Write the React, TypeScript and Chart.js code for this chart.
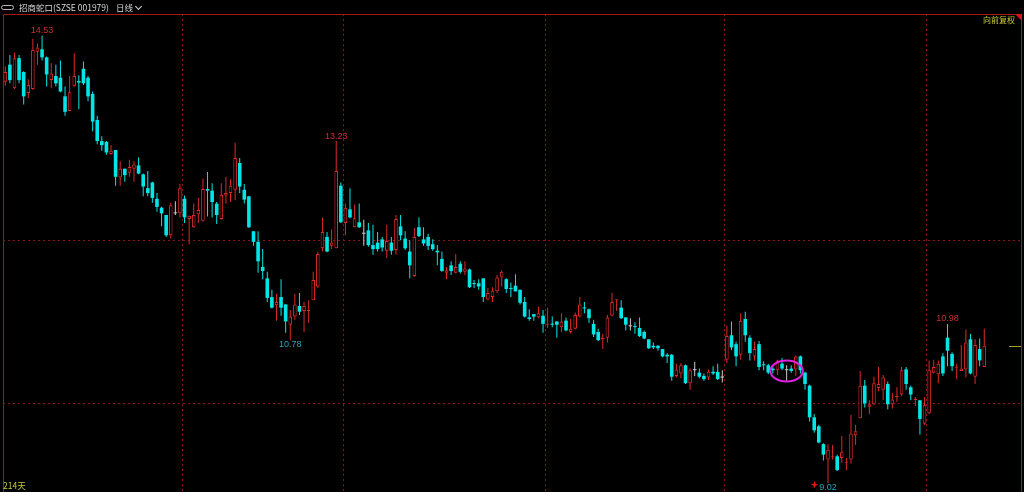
import React, { useEffect, useRef } from 'react';
import { Chart, registerables } from 'chart.js';

Chart.register(...registerables);

// ---- Daily K-line data (214 trading days) ----
const openData = [
  13.96, 14.17, 13.88, 14.25, 14.08, 13.82, 13.87, 14.33, 14.36, 14.26,
  13.98, 14.03, 14.01, 13.78, 13.60, 13.91, 13.97, 14.12, 14.01, 13.81,
  13.49, 13.23, 13.22, 13.07, 13.12, 12.78, 12.89, 12.84, 12.89, 12.93,
  12.82, 12.65, 12.72, 12.52, 12.41, 12.32, 12.07, 12.34, 12.34, 12.52,
  12.27, 12.17, 12.33, 12.25, 12.64, 12.62, 12.46, 12.27, 12.56, 12.59,
  12.63, 12.96, 12.63, 12.55, 12.12, 11.99, 11.68, 11.54, 11.31, 11.21,
  11.31, 11.22, 10.97, 11.07, 11.20, 11.14, 11.14, 11.27, 11.44, 11.91,
  12.05, 11.94, 11.91, 12.68, 12.22, 12.39, 12.17, 12.23, 12.09, 12.13,
  11.95, 11.98, 12.02, 11.88, 11.98, 11.89, 12.18, 12.03, 11.87, 11.57,
  12.17, 12.02, 12.05, 11.96, 11.88, 11.78, 11.61, 11.70, 11.61, 11.72,
  11.62, 11.65, 11.48, 11.48, 11.54, 11.28, 11.31, 11.38, 11.55, 11.53,
  11.42, 11.45, 11.40, 11.25, 11.06, 11.10, 11.06, 11.08, 10.97, 10.98,
  11.01, 10.94, 11.02, 10.88, 10.92, 11.07, 11.18, 11.16, 10.98, 10.88,
  10.79, 10.81, 11.08, 11.27, 11.18, 11.06, 10.95, 10.95, 10.93, 10.88,
  10.79, 10.71, 10.71, 10.67, 10.60, 10.60, 10.34, 10.37, 10.47, 10.25,
  10.41, 10.38, 10.34, 10.32, 10.39, 10.39, 10.32, 10.54, 10.84, 10.73,
  10.60, 11.04, 10.81, 10.58, 10.73, 10.48, 10.47, 10.43, 10.41, 10.49,
  10.41, 10.43, 10.42, 10.58, 10.38, 10.22, 9.83, 9.72, 9.50, 9.31,
  9.34, 9.35, 9.33, 9.27, 9.31, 9.61, 9.82, 10.22, 9.96, 9.99,
  10.19, 10.17, 10.24, 9.99, 10.08, 10.11, 10.42, 10.20, 10.04, 10.04,
  9.75, 9.88, 10.38, 10.36, 10.58, 10.81, 10.61, 10.44, 10.40, 10.42,
  10.79, 10.33, 10.67, 10.45,
];

const highData = [
  14.15, 14.29, 14.32, 14.29, 14.09, 13.99, 14.49, 14.43, 14.53, 14.27,
  14.19, 14.17, 14.22, 13.90, 14.03, 14.31, 14.04, 14.21, 14.03, 13.84,
  13.54, 13.29, 13.23, 13.18, 13.12, 12.98, 12.89, 13.00, 12.98, 13.03,
  12.83, 12.86, 12.73, 12.59, 12.42, 12.32, 12.47, 12.49, 12.70, 12.56,
  12.31, 12.46, 12.53, 12.77, 12.85, 12.71, 12.48, 12.71, 12.79, 12.76,
  13.21, 13.02, 12.70, 12.55, 12.12, 12.12, 11.90, 11.62, 11.40, 11.35,
  11.53, 11.22, 11.15, 11.35, 11.36, 11.25, 11.27, 11.62, 11.87, 12.29,
  12.11, 12.14, 13.23, 12.72, 12.46, 12.65, 12.45, 12.46, 12.26, 12.22,
  12.20, 12.11, 12.05, 12.20, 12.05, 12.32, 12.32, 12.12, 12.01, 12.16,
  12.29, 12.17, 12.09, 12.02, 11.95, 11.87, 11.68, 11.75, 11.84, 11.75,
  11.75, 11.66, 11.52, 11.53, 11.54, 11.42, 11.43, 11.58, 11.64, 11.54,
  11.49, 11.59, 11.40, 11.31, 11.16, 11.10, 11.19, 11.15, 11.18, 11.07,
  11.01, 11.11, 11.06, 11.04, 11.12, 11.31, 11.25, 11.17, 11.03, 10.92,
  10.86, 11.09, 11.36, 11.28, 11.27, 11.06, 11.05, 11.00, 11.06, 10.90,
  10.79, 10.75, 10.72, 10.67, 10.62, 10.61, 10.49, 10.50, 10.48, 10.43,
  10.51, 10.43, 10.37, 10.42, 10.46, 10.49, 10.41, 10.96, 11.01, 10.76,
  11.11, 11.13, 10.84, 10.76, 10.77, 10.52, 10.49, 10.46, 10.54, 10.56,
  10.47, 10.47, 10.59, 10.59, 10.39, 10.23, 9.87, 9.74, 9.51, 9.50,
  9.49, 9.37, 9.60, 9.33, 9.86, 9.74, 10.40, 10.29, 10.04, 10.33,
  10.45, 10.35, 10.27, 10.13, 10.20, 10.45, 10.45, 10.22, 10.08, 10.04,
  10.08, 10.53, 10.54, 10.53, 10.62, 10.98, 10.63, 10.49, 10.72, 10.91,
  10.86, 10.79, 10.80, 10.92,
];

const lowData = [
  13.91, 13.94, 13.87, 13.94, 13.68, 13.76, 13.86, 14.17, 14.22, 13.90,
  13.88, 13.90, 13.83, 13.54, 13.60, 13.90, 13.62, 13.92, 13.72, 13.35,
  13.19, 13.11, 13.06, 13.06, 12.68, 12.68, 12.73, 12.79, 12.73, 12.82,
  12.55, 12.55, 12.47, 12.36, 12.18, 12.05, 12.03, 12.32, 12.29, 12.22,
  11.96, 12.16, 12.22, 12.24, 12.30, 12.29, 12.21, 12.26, 12.46, 12.48,
  12.50, 12.59, 12.46, 12.16, 11.94, 11.61, 11.53, 11.25, 11.17, 11.02,
  11.08, 10.87, 10.78, 11.03, 11.09, 10.88, 10.99, 11.27, 11.42, 11.87,
  11.86, 11.90, 11.91, 12.22, 12.07, 12.28, 12.17, 12.16, 11.94, 11.93,
  11.83, 11.87, 11.87, 11.79, 11.83, 11.83, 12.01, 11.89, 11.54, 11.56,
  12.05, 11.94, 11.89, 11.88, 11.70, 11.62, 11.53, 11.58, 11.60, 11.60,
  11.58, 11.42, 11.42, 11.40, 11.25, 11.27, 11.25, 11.36, 11.44, 11.36,
  11.31, 11.38, 11.22, 11.06, 11.02, 11.02, 11.05, 10.87, 10.93, 10.94,
  10.81, 10.88, 10.89, 10.86, 10.91, 11.06, 11.11, 10.99, 10.82, 10.77,
  10.67, 10.75, 11.07, 11.14, 11.04, 10.90, 10.90, 10.86, 10.82, 10.79,
  10.67, 10.67, 10.65, 10.57, 10.50, 10.28, 10.32, 10.31, 10.24, 10.17,
  10.34, 10.31, 10.28, 10.29, 10.35, 10.29, 10.26, 10.50, 10.66, 10.46,
  10.54, 10.76, 10.53, 10.53, 10.41, 10.41, 10.36, 10.37, 10.35, 10.41,
  10.28, 10.38, 10.34, 10.37, 10.17, 9.78, 9.64, 9.51, 9.30, 9.02,
  9.31, 9.17, 9.27, 9.18, 9.26, 9.49, 9.82, 9.95, 9.87, 9.98,
  10.15, 10.04, 9.93, 9.94, 10.02, 10.09, 10.17, 10.04, 9.97, 9.62,
  9.74, 9.87, 10.37, 10.25, 10.34, 10.46, 10.40, 10.30, 10.40, 10.32,
  10.36, 10.24, 10.46, 10.45,
];

const closeData = [
  14.08, 13.98, 14.25, 13.98, 13.78, 13.92, 14.35, 14.38, 14.26, 14.05,
  14.06, 13.94, 13.84, 13.59, 13.83, 14.03, 13.95, 13.94, 13.78, 13.47,
  13.23, 13.18, 13.09, 13.11, 12.79, 12.89, 12.81, 12.91, 12.94, 12.83,
  12.67, 12.59, 12.53, 12.42, 12.34, 12.07, 12.44, 12.34, 12.65, 12.29,
  12.31, 12.32, 12.38, 12.64, 12.62, 12.48, 12.32, 12.57, 12.59, 12.68,
  13.02, 12.67, 12.51, 12.17, 11.99, 11.75, 11.63, 11.30, 11.18, 11.25,
  11.18, 11.01, 11.07, 11.22, 11.13, 11.20, 11.15, 11.52, 11.84, 12.11,
  11.87, 11.98, 12.86, 12.23, 12.41, 12.29, 12.28, 12.17, 12.09, 11.95,
  11.90, 11.90, 11.92, 12.00, 11.88, 12.27, 12.07, 11.91, 11.70, 12.05,
  12.06, 11.97, 11.94, 11.90, 11.86, 11.63, 11.64, 11.63, 11.68, 11.62,
  11.66, 11.43, 11.47, 11.44, 11.31, 11.36, 11.39, 11.55, 11.62, 11.41,
  11.41, 11.38, 11.24, 11.07, 11.04, 11.07, 11.11, 10.98, 10.98, 10.97,
  10.97, 11.01, 10.90, 10.92, 11.09, 11.22, 11.17, 11.05, 10.85, 10.78,
  10.81, 11.06, 11.25, 11.28, 11.05, 10.97, 10.95, 10.94, 10.83, 10.80,
  10.68, 10.69, 10.68, 10.58, 10.58, 10.33, 10.42, 10.47, 10.25, 10.41,
  10.41, 10.33, 10.30, 10.39, 10.37, 10.30, 10.32, 10.83, 10.69, 10.58,
  11.02, 10.84, 10.62, 10.67, 10.45, 10.47, 10.38, 10.41, 10.53, 10.43,
  10.41, 10.40, 10.58, 10.41, 10.24, 9.83, 9.67, 9.52, 9.37, 9.43,
  9.35, 9.18, 9.40, 9.28, 9.63, 9.66, 10.22, 10.00, 9.99, 10.25,
  10.24, 10.32, 9.99, 10.05, 10.09, 10.41, 10.24, 10.11, 10.06, 9.81,
  9.98, 10.41, 10.45, 10.49, 10.37, 10.65, 10.46, 10.45, 10.43, 10.75,
  10.37, 10.72, 10.53, 10.71,
];

// Vertical (period) grid positions, between day slots; horizontal price grid
const periodBreaks = [38.5, 73.5, 117.5, 156.5, 200.5];
const priceGrid = [10, 12];

// Annotated extremes (day indices)
const highMarks = [8, 72, 205];
const lowMarks = [62, 179];

// Circled group of days and its price level
const circledDays = [168, 172];
const circledPrice = 10.4;

const UP_COLOR = '#dc2a2a';
const DOWN_COLOR = '#00e6e6';
const FLAT_COLOR = '#cccccc';
const FRAME_COLOR = '#a81616';
const GRID_COLOR = '#8c1414';
const HIGH_TEXT = '#cc3030';
const LOW_TEXT = '#25a6bd';
const NOTE_YELLOW = '#c8c83a';

function candleColor(i: number) {
  if (closeData[i] > openData[i]) return UP_COLOR;
  if (closeData[i] < openData[i]) return DOWN_COLOR;
  return FLAT_COLOR;
}

const overlayPlugin = {
  id: 'klineOverlay',
  afterDatasetsDraw(chart: any) {
    const { ctx, chartArea: a, scales } = chart;
    const xs = scales.x;
    const ys = scales.y;
    ctx.save();

    // frame
    ctx.strokeStyle = FRAME_COLOR;
    ctx.lineWidth = 1;
    ctx.setLineDash([]);
    ctx.beginPath();
    ctx.moveTo(a.left + 0.5, a.bottom);
    ctx.lineTo(a.left + 0.5, a.top + 0.5);
    ctx.lineTo(a.right - 0.5, a.top + 0.5);
    ctx.lineTo(a.right - 0.5, a.bottom);
    ctx.stroke();

    // corner triangle
    ctx.fillStyle = '#d01818';
    ctx.beginPath();
    ctx.moveTo(a.right - 7, a.top);
    ctx.lineTo(a.right, a.top);
    ctx.lineTo(a.right, a.top + 7);
    ctx.closePath();
    ctx.fill();

    // high / low labels
    ctx.font = '9px "Liberation Sans", Arial, sans-serif';
    ctx.textAlign = 'center';
    ctx.textBaseline = 'middle';
    highMarks.forEach((i) => {
      const px = xs.getPixelForValue(i);
      const py = ys.getPixelForValue(highData[i]);
      ctx.fillStyle = HIGH_TEXT;
      ctx.fillText(highData[i].toFixed(2), px, py - 5);
    });
    let minIdx = 0;
    lowData.forEach((v, i) => { if (v < lowData[minIdx]) minIdx = i; });
    lowMarks.forEach((i) => {
      const px = xs.getPixelForValue(i);
      const py = ys.getPixelForValue(lowData[i]);
      ctx.fillStyle = LOW_TEXT;
      ctx.fillText(lowData[i].toFixed(2), px, py + 4.5);
      if (i === minIdx) {
        const sx = px - 13.5;
        const sy = py + 1.5;
        ctx.fillStyle = '#e01c1c';
        ctx.beginPath();
        const r = 3.8, r2 = 1.4;
        for (let k = 0; k < 8; k++) {
          const ang = (Math.PI / 4) * k - Math.PI / 2;
          const rr = k % 2 === 0 ? r : r2;
          const qx = sx + rr * Math.cos(ang);
          const qy = sy + rr * Math.sin(ang);
          if (k === 0) ctx.moveTo(qx, qy); else ctx.lineTo(qx, qy);
        }
        ctx.closePath();
        ctx.fill();
      }
    });

    // circled group
    const cx = (xs.getPixelForValue(circledDays[0]) + xs.getPixelForValue(circledDays[1])) / 2;
    const rx = (xs.getPixelForValue(circledDays[1]) - xs.getPixelForValue(circledDays[0])) / 2 + 7;
    const cy = ys.getPixelForValue(circledPrice);
    ctx.strokeStyle = '#e020e0';
    ctx.lineWidth = 2;
    ctx.beginPath();
    ctx.ellipse(cx, cy, rx, 10.5, 0, 0, Math.PI * 2);
    ctx.stroke();

    // last price marker
    const last = closeData[closeData.length - 1];
    const ly = Math.round(ys.getPixelForValue(last)) + 0.5;
    ctx.strokeStyle = '#a0a020';
    ctx.lineWidth = 1;
    ctx.beginPath();
    ctx.moveTo(a.right - 13, ly);
    ctx.lineTo(a.right - 1, ly);
    ctx.stroke();

    ctx.restore();
  },
};

export default function App() {
  const ref = useRef<HTMLCanvasElement | null>(null);

  useEffect(() => {
    document.body.style.margin = '0';
    document.body.style.background = '#000';
    const idx = openData.map((_, i) => i);
    const wickData = idx.map((i) => ({ x: i, y: [lowData[i], highData[i]] }));
    const bodyData = idx.map((i) => ({
      x: i,
      y: [Math.min(openData[i], closeData[i]), Math.max(openData[i], closeData[i])],
    }));
    const chart = new Chart(ref.current as HTMLCanvasElement, {
      type: 'bar',
      data: {
        datasets: [
          {
            label: 'body',
            data: bodyData as any,
            backgroundColor: idx.map((i) => (closeData[i] > openData[i] ? '#000000' : candleColor(i))),
            borderColor: idx.map((i) => candleColor(i)),
            borderWidth: idx.map((i) => (closeData[i] > openData[i] ? 1 : 0)),
            borderSkipped: false,
            barThickness: 3.6,
            minBarLength: 1,
            inflateAmount: 0,
            grouped: false,
            order: 1,
          } as any,
          {
            label: 'wick',
            data: wickData as any,
            backgroundColor: idx.map((i) => candleColor(i)),
            borderWidth: 0,
            barThickness: 1,
            inflateAmount: 0,
            grouped: false,
            order: 2,
          } as any,
        ],
      },
      options: {
        responsive: false,
        animation: false,
        events: [],
        layout: { padding: { left: 3, top: 14, right: 2, bottom: 0 } },
        plugins: { legend: { display: false }, tooltip: { enabled: false } },
        scales: {
          x: {
            type: 'linear',
            min: -0.5,
            max: 221.21,
            offset: false,
            bounds: 'data',
            ticks: { display: false },
            grid: { color: GRID_COLOR, lineWidth: 1, drawTicks: false, offset: false },
            border: { display: false, dash: [2, 3] },
            afterBuildTicks: (axis: any) => {
              axis.ticks = periodBreaks.map((v) => ({ value: v }));
            },
          },
          y: {
            type: 'linear',
            min: 8.9108,
            max: 14.7938,
            beginAtZero: false,
            bounds: 'data',
            ticks: { display: false },
            grid: { color: GRID_COLOR, lineWidth: 1, drawTicks: false },
            border: { display: false, dash: [2, 3] },
            afterBuildTicks: (axis: any) => {
              axis.ticks = priceGrid.map((v) => ({ value: v }));
            },
          },
        } as any,
      },
      plugins: [overlayPlugin],
    });
    return () => {
      chart.destroy();
    };
  }, []);

  const cjk = '"Noto Sans CJK SC", "Noto Sans", sans-serif';

  return (
    <div
      style={{
        position: 'fixed',
        left: 0,
        top: 0,
        width: 1024,
        height: 492,
        background: '#000',
        overflow: 'hidden',
      }}
    >
      <canvas
        ref={ref}
        width={1024}
        height={492}
        style={{ position: 'absolute', left: 0, top: 0, display: 'block' }}
      />
      <div
        style={{
          position: 'absolute',
          left: 1,
          top: 3,
          height: 9,
          lineHeight: '9px',
          fontSize: 8.5,
          fontFamily: cjk,
          color: '#d6d6d6',
          whiteSpace: 'nowrap',
          display: 'flex',
          alignItems: 'center',
        }}
      >
        <span
          style={{
            display: 'inline-block',
            width: 11,
            height: 3,
            border: '1px solid #bcbcbc',
            borderRadius: 3,
            marginRight: 5,
          }}
        />
        <span>招商蛇口(SZSE 001979)</span>
        <span style={{ marginLeft: 7 }}>日线</span>
        <span
          style={{
            display: 'inline-block',
            width: 4,
            height: 4,
            borderRight: '1px solid #d6d6d6',
            borderBottom: '1px solid #d6d6d6',
            transform: 'rotate(45deg)',
            marginLeft: 3,
            marginTop: -3,
          }}
        />
      </div>
      <div
        style={{
          position: 'absolute',
          left: 983,
          top: 16,
          lineHeight: '8px',
          fontSize: 8,
          fontFamily: cjk,
          color: NOTE_YELLOW,
          whiteSpace: 'nowrap',
        }}
      >
        向前复权
      </div>
      <div
        style={{
          position: 'absolute',
          left: 3,
          top: 481,
          lineHeight: '8px',
          fontSize: 8.5,
          fontFamily: cjk,
          color: NOTE_YELLOW,
          whiteSpace: 'nowrap',
        }}
      >
        214天
      </div>
    </div>
  );
}
